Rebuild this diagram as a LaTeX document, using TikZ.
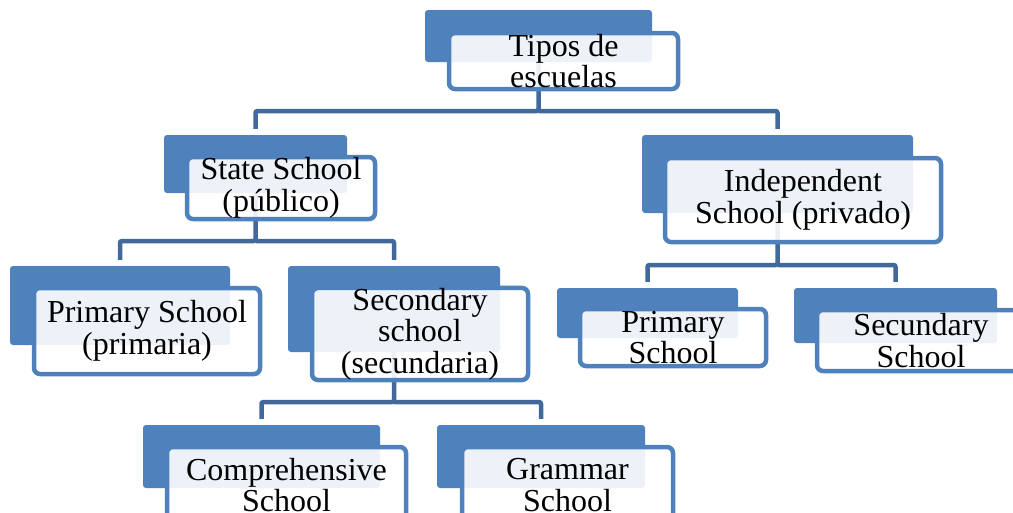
\documentclass[tikz,border=0pt]{standalone}
\usepackage{fontspec}
\setmainfont{Liberation Serif}
\definecolor{boxblue}{RGB}{79,129,189}
\definecolor{lineblue}{RGB}{65,105,155}
\begin{document}
\begin{tikzpicture}[x=1pt,y=-1pt,back box/.style={fill=boxblue, rounded corners=3pt, inner sep=0pt},front box/.style={draw=boxblue, line width=4.5pt, fill=white, fill opacity=0.9, text opacity=1, rounded corners=6pt, inner sep=0pt, align=center, font=\fontsize{32}{31.5}\selectfont},conn/.style={draw=lineblue, line width=4.5pt, rounded corners=2pt, shorten >=6pt}]%
\path[use as bounding box] (0,0) rectangle (1013,512);%
  % Back boxes%
\node[back box, minimum width=227pt, minimum height=52pt] (rootB) at (538.5,36) {};%
\node[back box, minimum width=183pt, minimum height=58pt] (stateB) at (255.5,164) {};%
\node[back box, minimum width=271pt, minimum height=78pt] (indepB) at (777.5,174) {};%
\node[back box, minimum width=220pt, minimum height=79pt] (primB) at (120,305.5) {};%
\node[back box, minimum width=212pt, minimum height=86pt] (secB) at (394,309) {};%
\node[back box, minimum width=181pt, minimum height=50pt] (iprimB) at (647.5,313) {};%
\node[back box, minimum width=203pt, minimum height=55pt] (isecB) at (895.5,315.5) {};%
\node[back box, minimum width=237pt, minimum height=63pt] (compB) at (261.5,456.5) {};%
\node[back box, minimum width=208pt, minimum height=63pt] (gramB) at (541,456.5) {};%
  % Connectors%
\coordinate (rootbar) at (538.5,111);%
\coordinate (statebar) at (255.5,241);%
\coordinate (indepbar) at (777.5,265);%
\coordinate (secbar) at (394,402);%
\draw[conn] (rootB.south) -- (rootbar) -| (stateB.north);%
\draw[conn] (rootbar) -| (indepB.north);%
\draw[conn] (stateB.south) -- (statebar) -| (primB.north);%
\draw[conn] (statebar) -| (secB.north);%
\draw[conn] (indepB.south) -- (indepbar) -| (iprimB.north);%
\draw[conn] (indepbar) -| (isecB.north);%
\draw[conn] (secB.south) -- (secbar) -| (compB.north);%
\draw[conn] (secbar) -| (gramB.north);%
  % Front boxes%
\node[front box, minimum width=229pt, minimum height=56pt] (root) at (563.5,61) {Tipos de\\escuelas};%
\node[front box, minimum width=188pt, minimum height=62pt] (state) at (281,188) {State School\\(público)};%
\node[front box, minimum width=276pt, minimum height=84pt] (indep) at (803,200) {Independent\\School (privado)};%
\node[front box, minimum width=226pt, minimum height=86pt] (prim) at (147,331) {Primary School\\(primaria)};%
\node[front box, minimum width=216pt, minimum height=92pt] (sec) at (420,334) {Secondary\\school\\(secundaria)};%
\node[front box, minimum width=186pt, minimum height=57pt] (iprim) at (673,337.5) {Primary\\School};%
\node[front box, minimum width=208pt, minimum height=61pt] (isec) at (921,340.5) {Secundary\\School};%
\node[front box, minimum width=239pt, minimum height=76pt] (comp) at (286.5,485) {Comprehensive\\School};%
\node[front box, minimum width=211pt, minimum height=76pt] (gram) at (567.5,485) {Grammar\\School};%
\end{tikzpicture}
\end{document}
